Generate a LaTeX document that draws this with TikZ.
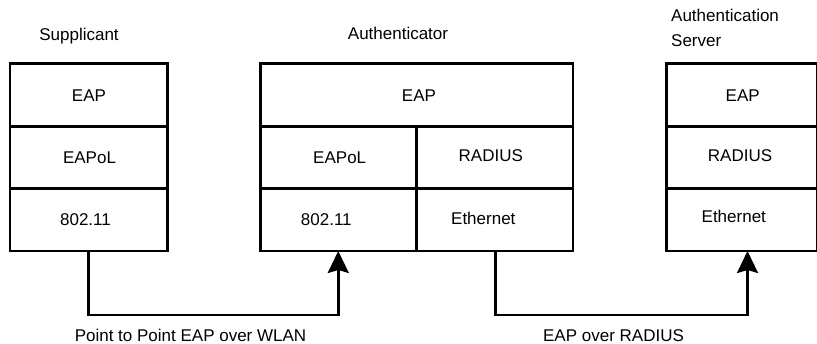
\documentclass[tikz,border=0pt]{standalone}
\usepackage{fontspec}
\setmainfont{Liberation Sans}
\usetikzlibrary{arrows.meta}

\tikzset{
  cell/.style={draw=black, line width=2.5pt, rectangle, inner sep=0pt, anchor=north west},
  txt/.style={inner sep=0pt, anchor=base, font=\fontsize{17}{20}\selectfont},
  link/.style={draw=black, line width=2.5pt,
               -{Stealth[length=22pt, width=21pt, inset=3pt]}}
}

\begin{document}
\begin{tikzpicture}[x=1pt, y=-1pt]
  \useasboundingbox (0,0) rectangle (817,344);

  % Supplicant stack
  \node[cell, minimum width=157.5pt, minimum height=63pt] (s1) at (8.5,62.5) {};
  \node[cell, minimum width=157.5pt, minimum height=62pt] (s2) at (8.5,125.5) {};
  \node[cell, minimum width=157.5pt, minimum height=62.5pt] (s3) at (8.5,187.5) {};

  % Authenticator stack
  \node[cell, minimum width=312.7pt, minimum height=63pt] (a1) at (259,62.5) {};
  \node[cell, minimum width=156pt, minimum height=62pt] (a2l) at (259,125.5) {};
  \node[cell, minimum width=156.7pt, minimum height=62pt] (a2r) at (415,125.5) {};
  \node[cell, minimum width=156pt, minimum height=62.5pt] (a3l) at (259,187.5) {};
  \node[cell, minimum width=156.7pt, minimum height=62.5pt] (a3r) at (415,187.5) {};

  % Authentication server stack
  \node[cell, minimum width=150.5pt, minimum height=63pt] (v1) at (665,62.5) {};
  \node[cell, minimum width=150.5pt, minimum height=62pt] (v2) at (665,125.5) {};
  \node[cell, minimum width=150.5pt, minimum height=62.5pt] (v3) at (665,187.5) {};

  % Titles
  \node[txt] (tsup) at (79,41) {Supplicant};
  \node[txt] (tauth) at (398,39.5) {Authenticator};
  \node[txt, anchor=base west] (tsrv1) at (671,21.7) {Authentication};
  \node[txt, anchor=base west] (tsrv2) at (671,46.7) {Server};

  % Layer names
  \node[txt] (ls1) at (89,101.5) {EAP};
  \node[txt] (ls2) at (89.5,163.5) {EAPoL};
  \node[txt] (ls3) at (85.5,225.5) {802.11};

  \node[txt] (la1) at (419,101.5) {EAP};
  \node[txt] (la2l) at (339.7,163.5) {EAPoL};
  \node[txt] (la2r) at (490.8,161.5) {RADIUS};
  \node[txt] (la3l) at (326.3,226) {802.11};
  \node[txt] (la3r) at (483.3,224.5) {Ethernet};

  \node[txt] (lv1) at (742.7,101.5) {EAP};
  \node[txt] (lv2) at (740,161.5) {RADIUS};
  \node[txt] (lv3) at (733.8,223) {Ethernet};

  % Connections
  \coordinate (w1) at ([yshift=1.5pt]a3l.south);
  \coordinate (w2) at ([xshift=6pt, yshift=1.5pt]v3.south);
  \draw[link] (s3.south) -- ++(0,62.3) -| (w1);
  \draw[link] ([xshift=0.7pt]a3r.south) -- ++(0,62.3) -| (w2);

  % Connection labels (no descenders, so no depth is reserved)
  \node[txt, text depth=0pt] (lwlan) at (190.5,341.5) {Point to Point EAP over WLAN};
  \node[txt, text depth=0pt] (lrad) at (613.5,341.5) {EAP over RADIUS};
\end{tikzpicture}
\end{document}
